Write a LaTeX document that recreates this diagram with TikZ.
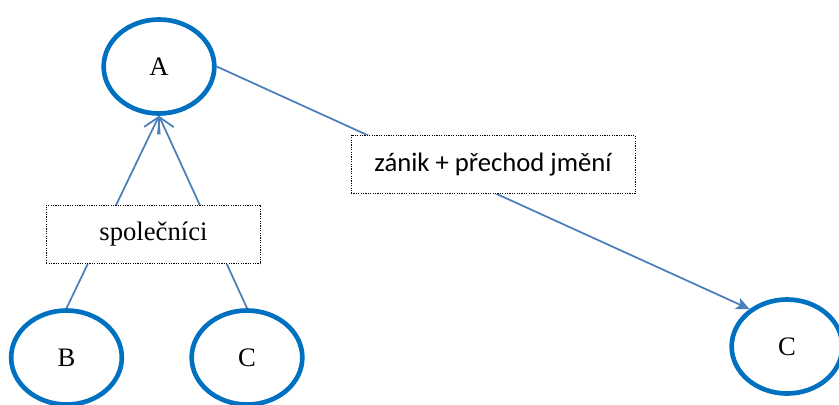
\documentclass[tikz,border=0pt]{standalone}
\usepackage{fontspec}
\setmainfont{Liberation Serif}
\newfontfamily\calfont{Carlito}
\usepackage{xcolor}
\usepackage{tikz}
\usetikzlibrary{shapes.geometric,arrows.meta}

\definecolor{ringblue}{HTML}{0070C0}
\definecolor{edgeblue}{HTML}{4A7EBB}

\tikzset{
  party/.style={ellipse, draw=ringblue, line width=3.5pt, minimum width=83pt,
    minimum height=70.5pt, font=\fontsize{20}{24}\selectfont},
  notebox/.style={draw, fill=white, line width=0.6pt, dash pattern=on 0.9pt off 0.9pt,
    minimum height=44pt, font=\fontsize{20}{24}\selectfont},
  link/.style={draw=edgeblue, line width=1.3pt}
}

\begin{document}
\begin{tikzpicture}[x=0.75pt,y=-0.75pt]
\useasboundingbox (0,0) rectangle (839,404);

% Draw the persons
\node[party] (A) at (159,66.5) {A};
\node[party] (B) at (66.5,357.5) {B};
\node[party] (C1) at (247,357.5) {C};
\node[party] (C2) at (787,346.5) {C};

% Draw links (the boxes are laid over them)
\draw[link, -{Straight Barb[length=11pt,width=13pt]}] (B.north) -- (A.south);
\draw[link, -{Straight Barb[length=11pt,width=13pt]}] (C1.north) -- (A.south);
\draw[link, -{Stealth[length=10pt,width=9pt,inset=2.5pt]}] (A.east) -- (C2.135);

% Draw the labels
\node[notebox, minimum width=161pt] (partners) at (153.5,234.5) {společníci};
\node[notebox, minimum width=213pt, font=\calfont\fontsize{20}{24}\selectfont] (merge) at (493,164.5) {zánik + přechod jmění};
\end{tikzpicture}
\end{document}
